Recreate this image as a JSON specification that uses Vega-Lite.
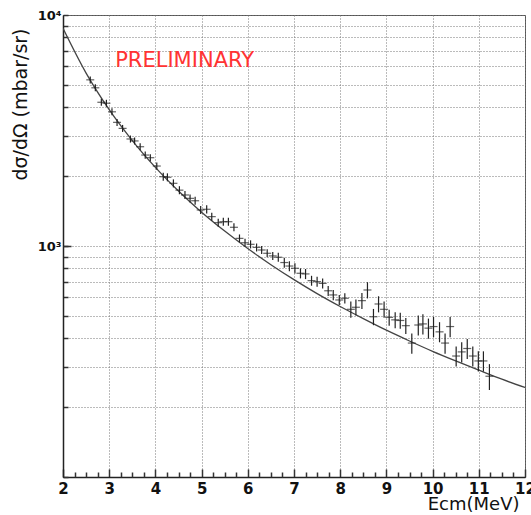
{
  "$schema": "https://vega.github.io/schema/vega-lite/v6.json",
  "width": 462,
  "height": 462,
  "autosize": "none",
  "padding": {"left": 63, "top": 15, "right": 6, "bottom": 38},
  "background": "white",
  "config": {"view": {"stroke": "#555", "strokeWidth": 1}},
  "resolve": {"axis": {"x": "independent", "y": "independent"}},
  "datasets": {
    "curve": [
      {"E": 2, "s": 8750}, {"E": 2.5, "s": 5600}, {"E": 3, "s": 3890}, {"E": 3.5, "s": 2860},
      {"E": 4, "s": 2190}, {"E": 4.5, "s": 1730}, {"E": 5, "s": 1400}, {"E": 5.5, "s": 1160},
      {"E": 6, "s": 975}, {"E": 6.5, "s": 830}, {"E": 7, "s": 715}, {"E": 7.5, "s": 622},
      {"E": 8, "s": 547}, {"E": 8.5, "s": 485}, {"E": 9, "s": 432}, {"E": 9.5, "s": 388},
      {"E": 10, "s": 350}, {"E": 10.5, "s": 318}, {"E": 11, "s": 290}, {"E": 11.5, "s": 265},
      {"E": 12, "s": 244}
    ],
    "pts": [
      {"E": 2.59, "s": 5240, "lo": 5057, "hi": 5423},
      {"E": 2.70, "s": 4840, "lo": 4671, "hi": 5009},
      {"E": 2.83, "s": 4190, "lo": 4043, "hi": 4337},
      {"E": 2.94, "s": 4150, "lo": 4005, "hi": 4295},
      {"E": 3.06, "s": 3810, "lo": 3677, "hi": 3943},
      {"E": 3.17, "s": 3430, "lo": 3310, "hi": 3550},
      {"E": 3.29, "s": 3230, "lo": 3117, "hi": 3343},
      {"E": 3.46, "s": 2906, "lo": 2804, "hi": 3008},
      {"E": 3.55, "s": 2850, "lo": 2750, "hi": 2950},
      {"E": 3.67, "s": 2690, "lo": 2596, "hi": 2784},
      {"E": 3.78, "s": 2476, "lo": 2389, "hi": 2563},
      {"E": 3.89, "s": 2411, "lo": 2327, "hi": 2495},
      {"E": 4.03, "s": 2219, "lo": 2141, "hi": 2297},
      {"E": 4.17, "s": 1995, "lo": 1915, "hi": 2075},
      {"E": 4.26, "s": 1984, "lo": 1905, "hi": 2063},
      {"E": 4.39, "s": 1868, "lo": 1793, "hi": 1943},
      {"E": 4.52, "s": 1745, "lo": 1675, "hi": 1815},
      {"E": 4.64, "s": 1663, "lo": 1596, "hi": 1730},
      {"E": 4.75, "s": 1608, "lo": 1544, "hi": 1672},
      {"E": 4.86, "s": 1570, "lo": 1507, "hi": 1633},
      {"E": 4.98, "s": 1432, "lo": 1375, "hi": 1489},
      {"E": 5.11, "s": 1442, "lo": 1384, "hi": 1500},
      {"E": 5.22, "s": 1340, "lo": 1286, "hi": 1394},
      {"E": 5.36, "s": 1262, "lo": 1212, "hi": 1312},
      {"E": 5.47, "s": 1274, "lo": 1223, "hi": 1325},
      {"E": 5.58, "s": 1274, "lo": 1223, "hi": 1325},
      {"E": 5.70, "s": 1205, "lo": 1157, "hi": 1253},
      {"E": 5.82, "s": 1079, "lo": 1036, "hi": 1122},
      {"E": 5.94, "s": 1033, "lo": 992, "hi": 1074},
      {"E": 6.06, "s": 1017, "lo": 976, "hi": 1058},
      {"E": 6.19, "s": 986, "lo": 947, "hi": 1025},
      {"E": 6.30, "s": 961, "lo": 923, "hi": 999},
      {"E": 6.42, "s": 930, "lo": 893, "hi": 967},
      {"E": 6.54, "s": 906, "lo": 870, "hi": 942},
      {"E": 6.66, "s": 894, "lo": 854, "hi": 934},
      {"E": 6.79, "s": 848, "lo": 806, "hi": 890},
      {"E": 6.90, "s": 819, "lo": 778, "hi": 860},
      {"E": 7.02, "s": 801, "lo": 761, "hi": 841},
      {"E": 7.14, "s": 762, "lo": 724, "hi": 800},
      {"E": 7.25, "s": 757, "lo": 719, "hi": 795},
      {"E": 7.38, "s": 708, "lo": 673, "hi": 743},
      {"E": 7.50, "s": 701, "lo": 666, "hi": 736},
      {"E": 7.62, "s": 689, "lo": 655, "hi": 723},
      {"E": 7.74, "s": 640, "lo": 608, "hi": 672},
      {"E": 7.85, "s": 614, "lo": 583, "hi": 645},
      {"E": 7.98, "s": 584, "lo": 555, "hi": 613},
      {"E": 8.10, "s": 594, "lo": 564, "hi": 624},
      {"E": 8.23, "s": 532, "lo": 489, "hi": 575},
      {"E": 8.34, "s": 543, "lo": 500, "hi": 586},
      {"E": 8.47, "s": 580, "lo": 534, "hi": 626},
      {"E": 8.59, "s": 645, "lo": 593, "hi": 697},
      {"E": 8.72, "s": 494, "lo": 454, "hi": 534},
      {"E": 8.83, "s": 561, "lo": 516, "hi": 606},
      {"E": 8.95, "s": 532, "lo": 489, "hi": 575},
      {"E": 9.06, "s": 491, "lo": 452, "hi": 530},
      {"E": 9.19, "s": 479, "lo": 441, "hi": 517},
      {"E": 9.30, "s": 476, "lo": 438, "hi": 514},
      {"E": 9.42, "s": 452, "lo": 416, "hi": 488},
      {"E": 9.55, "s": 380, "lo": 342, "hi": 418},
      {"E": 9.69, "s": 455, "lo": 410, "hi": 500},
      {"E": 9.79, "s": 460, "lo": 414, "hi": 506},
      {"E": 9.91, "s": 441, "lo": 397, "hi": 485},
      {"E": 10.02, "s": 448, "lo": 403, "hi": 493},
      {"E": 10.15, "s": 425, "lo": 383, "hi": 468},
      {"E": 10.27, "s": 380, "lo": 342, "hi": 418},
      {"E": 10.38, "s": 448, "lo": 403, "hi": 493},
      {"E": 10.51, "s": 334, "lo": 301, "hi": 367},
      {"E": 10.63, "s": 348, "lo": 313, "hi": 383},
      {"E": 10.75, "s": 360, "lo": 324, "hi": 396},
      {"E": 10.87, "s": 334, "lo": 301, "hi": 367},
      {"E": 10.99, "s": 318, "lo": 286, "hi": 350},
      {"E": 11.10, "s": 318, "lo": 286, "hi": 350},
      {"E": 11.23, "s": 273, "lo": 238, "hi": 308}
    ],
    "note": [{"E": 3.13, "s": 6300, "text": "PRELIMINARY"}]
  },
  "layer": [
    {
      "data": {"name": "curve"},
      "mark": {"type": "line", "color": "#444", "strokeWidth": 1.3, "interpolate": "monotone", "clip": true},
      "encoding": {
        "x": {
          "field": "E", "type": "quantitative",
          "scale": {"domain": [2, 12], "nice": false, "zero": false},
          "axis": {
            "orient": "bottom",
            "title": "Ecm(MeV)",
            "titleFont": "DejaVu Sans", "titleFontSize": 18, "titleFontWeight": "normal", "titleColor": "#111",
            "titleAnchor": "end", "titleAlign": "right", "titleBaseline": "alphabetic",
            "titleX": 456, "titleY": 32,
            "values": [2, 3, 4, 5, 6, 7, 8, 9, 10, 11, 12],
            "format": "d",
            "labelFont": "DejaVu Sans", "labelFontSize": 15, "labelFontWeight": "bold", "labelColor": "#111",
            "labelFlush": false, "labelPadding": 12, "labelOverlap": false,
            "tickSize": -8,
            "tickColor": "#333", "tickWidth": 1.5,
            "domainColor": "#222", "domainWidth": 1.5,
            "grid": true, "gridColor": "#777", "gridDash": [1, 2], "gridWidth": 1
          }
        },
        "y": {
          "field": "s", "type": "quantitative",
          "scale": {"type": "log", "domain": [100, 10000], "nice": false},
          "axis": {
            "orient": "left",
            "title": "dσ/dΩ (mbar/sr)",
            "titleFont": "DejaVu Sans", "titleFontSize": 19, "titleFontWeight": "normal", "titleColor": "#111",
            "titleAngle": -90, "titleAlign": "center", "titleBaseline": "middle",
            "titleX": -43, "titleY": 89,
            "values": [100, 200, 300, 400, 500, 600, 700, 800, 900, 1000, 2000, 3000, 4000, 5000, 6000, 7000, 8000, 9000, 10000],
            "labelExpr": "datum.value == 1000 ? '10³' : (datum.value == 10000 ? '10⁴' : '')",
            "labelFont": "DejaVu Sans", "labelFontSize": 13, "labelFontWeight": "bold", "labelColor": "#111",
            "labelFlush": false, "labelPadding": 7, "labelOverlap": false,
            "tickSize": -5,
            "tickColor": "#333", "tickWidth": 1.5,
            "domainColor": "#222", "domainWidth": 1.5,
            "grid": true, "gridColor": "#777", "gridDash": [1, 2], "gridWidth": 1
          }
        }
      }
    },
    {
      "data": {"name": "pts"},
      "mark": {"type": "rule", "color": "#222", "strokeWidth": 1.2},
      "encoding": {
        "x": {
          "field": "E", "type": "quantitative",
          "axis": {
            "orient": "bottom", "title": null, "labels": false, "grid": false, "domain": false,
            "values": [2.25, 2.5, 2.75, 3.25, 3.5, 3.75, 4.25, 4.5, 4.75, 5.25, 5.5, 5.75, 6.25, 6.5, 6.75, 7.25, 7.5, 7.75, 8.25, 8.5, 8.75, 9.25, 9.5, 9.75, 10.25, 10.5, 10.75, 11.25, 11.5, 11.75],
            "tickSize": -5, "tickColor": "#333", "tickWidth": 1.5
          }
        },
        "y": {
          "field": "lo", "type": "quantitative",
          "axis": {
            "orient": "left", "title": null, "labels": false, "grid": false, "domain": false,
            "values": [1000],
            "tickSize": -8, "tickColor": "#333", "tickWidth": 1.5
          }
        },
        "y2": {"field": "hi"}
      }
    },
    {
      "data": {"name": "pts"},
      "mark": {"type": "tick", "orient": "horizontal", "color": "#222", "size": 8, "thickness": 1.2},
      "encoding": {
        "x": {"field": "E", "type": "quantitative", "axis": null},
        "y": {"field": "s", "type": "quantitative", "axis": null}
      }
    },
    {
      "data": {"name": "note"},
      "mark": {"type": "text", "color": "#ff3333", "font": "DejaVu Sans", "fontSize": 21, "align": "left", "baseline": "middle"},
      "encoding": {
        "x": {"field": "E", "type": "quantitative", "axis": null},
        "y": {"field": "s", "type": "quantitative", "axis": null},
        "text": {"field": "text"}
      }
    }
  ]
}
